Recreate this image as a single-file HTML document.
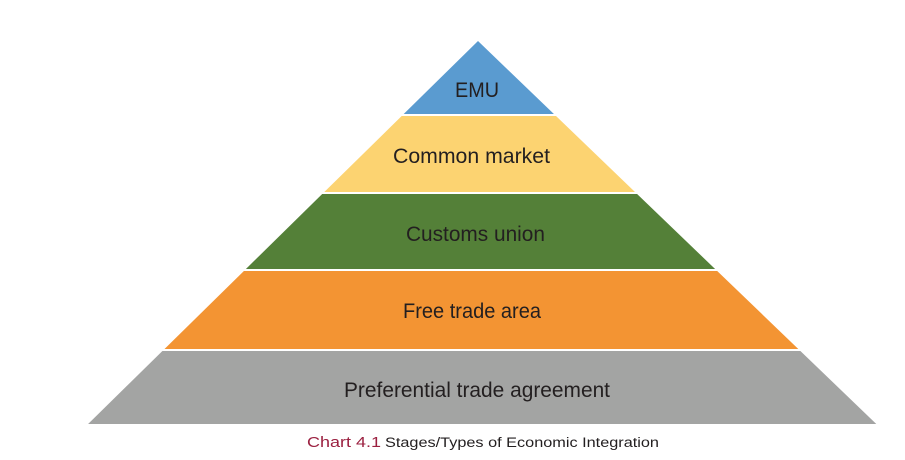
<!DOCTYPE html>
<html><head><meta charset="utf-8"><style>
html,body{margin:0;padding:0;background:#fff;width:905px;height:460px;overflow:hidden}
svg text{font-family:"Liberation Sans",sans-serif;fill:#231f20}
</style></head><body>
<svg width="905" height="460" viewBox="0 0 905 460" xmlns="http://www.w3.org/2000/svg">
<polygon points="478,41 553.9,114 403.7,114" fill="#5a9bd0"/>
<polygon points="401.7,116 556,116 635,192 324.3,192" fill="#fcd371"/>
<polygon points="322.2,194 637.1,194 715.1,269 245.9,269" fill="#548038"/>
<polygon points="243.9,271 717.2,271 798.3,349 164.5,349" fill="#f39433"/>
<polygon points="162.4,351 800.4,351 876.3,424 88.1,424" fill="#a3a4a3"/>
<text x="455" y="97" font-size="21" textLength="44" lengthAdjust="spacingAndGlyphs">EMU</text>
<text x="393" y="163" font-size="21" textLength="157" lengthAdjust="spacingAndGlyphs">Common market</text>
<text x="406" y="241" font-size="21" textLength="139" lengthAdjust="spacingAndGlyphs">Customs union</text>
<text x="403" y="318" font-size="21" textLength="138" lengthAdjust="spacingAndGlyphs">Free trade area</text>
<text x="344" y="397" font-size="21" textLength="266" lengthAdjust="spacingAndGlyphs">Preferential trade agreement</text>
<text x="307" y="447" font-size="15" style="fill:#9b2040" textLength="74" lengthAdjust="spacingAndGlyphs">Chart 4.1</text>
<text x="385" y="447" font-size="13.5" textLength="274" lengthAdjust="spacingAndGlyphs">Stages/Types of Economic Integration</text>
</svg>
</body></html>
